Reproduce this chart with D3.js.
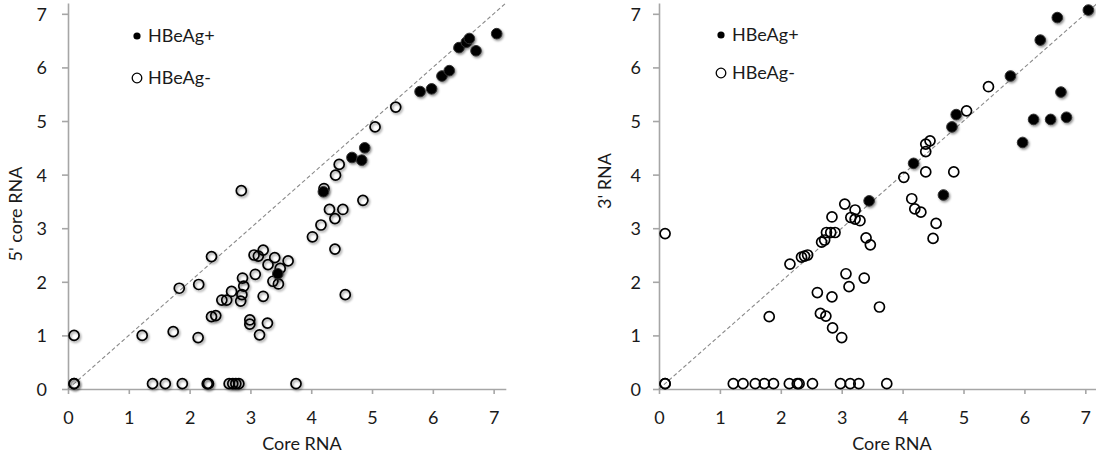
<!DOCTYPE html>
<html><head><meta charset="utf-8">
<script src="https://cdn.jsdelivr.net/npm/d3@7"></script>
<style>body{margin:0;background:#fff}svg{display:block}text{font-family:Lato,"Open Sans",sans-serif;fill:#1a1a1a}</style>
</head><body><svg id="c" width="1096" height="456"></svg>
<script>
const ticks = [0,1,2,3,4,5,6,7];
const legendLabels = ["HBeAg+","HBeAg-"];
const xTitle = "Core RNA";
const yTitles = ["5' core RNA","3' RNA"];

// Left panel: 5' core RNA vs Core RNA
const leftPosX = [3.45,4.20,4.67,4.83,4.88,5.79,5.98,6.15,6.27,6.43,6.55,6.60,6.71,7.05];
const leftPosY = [2.15,3.68,4.32,4.27,4.50,5.55,5.60,5.84,5.94,6.37,6.47,6.54,6.31,6.63];
const leftNegX = [0.1,0.1,0.1,1.22,1.73,1.83,2.14,2.15,2.36,2.36,2.43,2.53,2.61,2.69,2.84,2.86,2.87,2.89,2.85,2.99,2.99,3.06,3.13,3.08,3.21,3.21,3.15,3.28,3.29,3.40,3.49,3.37,3.46,3.62,4.02,4.16,4.21,4.30,4.39,4.52,4.39,4.56,4.85,4.40,4.46,5.05,5.39,
  1.39,1.60,1.88,2.29,2.31,2.65,2.71,2.76,2.81,3.75];
const leftNegY = [0.1,0.1,1.0,1.0,1.07,1.88,0.96,1.95,2.47,1.35,1.37,1.66,1.66,1.82,1.64,1.76,2.07,1.92,3.70,1.29,1.21,2.50,2.48,2.14,2.59,1.73,1.01,1.23,2.32,2.45,2.25,2.01,1.96,2.39,2.84,3.06,3.74,3.35,3.18,3.35,2.61,1.76,3.52,3.99,4.19,4.89,5.26,
  0.1,0.1,0.1,0.1,0.1,0.1,0.1,0.1,0.1,0.1];

// Right panel: 3' RNA vs Core RNA
const rightPosX = [3.45,4.18,4.67,4.81,4.88,5.77,5.97,6.15,6.26,6.43,6.54,6.60,6.69,7.05];
const rightPosY = [3.51,4.21,3.62,4.89,5.12,5.84,4.60,5.03,6.51,5.03,6.93,5.54,5.07,7.07];
const rightNegX = [0.1,0.1,0.1,1.81,2.15,2.34,2.39,2.44,2.67,2.72,2.75,2.82,2.89,2.84,3.05,3.15,3.22,3.22,3.30,3.40,3.47,2.60,2.84,3.07,3.37,3.12,3.62,2.65,2.74,2.85,3.00,4.02,4.15,4.20,4.30,4.55,4.50,4.38,4.84,4.38,4.38,4.45,5.05,5.41,
  1.22,1.38,1.58,1.73,1.88,2.14,2.27,2.30,2.52,2.98,3.14,3.28,3.74];
const rightNegY = [0.1,0.1,2.9,1.35,2.33,2.46,2.48,2.50,2.74,2.78,2.92,2.92,2.92,3.21,3.45,3.20,3.34,3.17,3.14,2.82,2.69,1.80,1.72,2.15,2.07,1.91,1.53,1.41,1.36,1.14,0.96,3.95,3.55,3.36,3.30,3.09,2.81,4.05,4.05,4.43,4.57,4.63,5.19,5.64,
  0.1,0.1,0.1,0.1,0.1,0.1,0.1,0.1,0.1,0.1,0.1,0.1,0.1];

const svg = d3.select("#c");
const defs = svg.append("defs");
const f = defs.append("filter").attr("id","sh").attr("x","-50%").attr("y","-50%").attr("width","200%").attr("height","200%");
f.append("feDropShadow").attr("dx",1.2).attr("dy",1.5).attr("stdDeviation",1).attr("flood-color","#000").attr("flood-opacity",0.45);

const panels = [
  {x0:68, x1:505.8, yTitle:yTitles[0], tX:22, tY:214, px:leftPosX, py:leftPosY, nx:leftNegX, ny:leftNegY, negShadow:true, lx:137, ly1:36, ly2:78, labEnd:47, titleX:302},
  {x0:659, x1:1097.5, yTitle:yTitles[1], tX:611, tY:181, px:rightPosX, py:rightPosY, nx:rightNegX, ny:rightNegY, negShadow:false, lx:721, ly1:35, ly2:73, labEnd:641, titleX:892}
];

panels.forEach(p => {
  const x = d3.scaleLinear().domain([0,7.2]).range([p.x0,p.x1]);
  const y = d3.scaleLinear().domain([0,7.2]).range([389,3.1]);
  const g = svg.append("g");

  // axes
  const ax = g.append("g").attr("transform","translate(0,389)")
    .call(d3.axisBottom(x).tickValues(ticks).tickSize(5).tickSizeOuter(0).tickFormat(d3.format("d")));
  ax.selectAll("text").attr("y",35).attr("dy",null).style("font-size","18px").attr("fill","#1a1a1a");
  const ay = g.append("g").attr("transform",`translate(${p.x0},0)`)
    .call(d3.axisLeft(y).tickValues(ticks).tickSize(6).tickSizeOuter(0).tickFormat(d3.format("d")));
  ay.selectAll("text").attr("x",p.labEnd - p.x0).attr("dy","0.36em").style("font-size","18px").attr("fill","#1a1a1a");
  [ax,ay].forEach(a => { a.select(".domain").attr("stroke","#a6a6a6").attr("stroke-width",1.6);
    a.selectAll(".tick line").attr("stroke","#a6a6a6").attr("stroke-width",1.6); });

  // diagonal
  g.append("line").attr("x1",x(0)).attr("y1",y(0)).attr("x2",x(7.2)).attr("y2",y(7.2))
    .attr("stroke","#8a8a8a").attr("stroke-width",1.1).attr("stroke-dasharray","4,2.5");

  // negative (open)
  g.append("g").selectAll("circle").data(d3.range(p.nx.length)).join("circle")
    .attr("cx",i=>x(p.nx[i])).attr("cy",i=>y(p.ny[i])).attr("r",5)
    .attr("fill","none").attr("stroke","#000").attr("stroke-width",1.7)
    .attr("filter",p.negShadow?"url(#sh)":null);
  // positive (filled)
  g.append("g").selectAll("circle").data(d3.range(p.px.length)).join("circle")
    .attr("cx",i=>x(p.px[i])).attr("cy",i=>y(p.py[i])).attr("r",5.3)
    .attr("fill","#000").attr("stroke","#333").attr("stroke-width",1)
    .attr("filter","url(#sh)");

  // titles
  g.append("text").attr("x",p.titleX).attr("y",450).attr("text-anchor","middle").style("font-size","18px").text(xTitle);
  g.append("text").attr("transform",`translate(${p.tX},${p.tY}) rotate(-90)`).attr("text-anchor","middle").style("font-size","18px").text(p.yTitle);

  // legend
  g.append("circle").attr("cx",p.lx).attr("cy",p.ly1).attr("r",3.6).attr("fill","#000");
  g.append("circle").attr("cx",p.lx).attr("cy",p.ly2).attr("r",4.8).attr("fill","none").attr("stroke","#000").attr("stroke-width",1.3);
  g.append("text").attr("x",p.lx+11).attr("y",p.ly1).attr("dy","0.36em").style("font-size","18px").text(legendLabels[0]);
  g.append("text").attr("x",p.lx+11).attr("y",p.ly2).attr("dy","0.36em").style("font-size","18px").text(legendLabels[1]);
});
</script></body></html>
